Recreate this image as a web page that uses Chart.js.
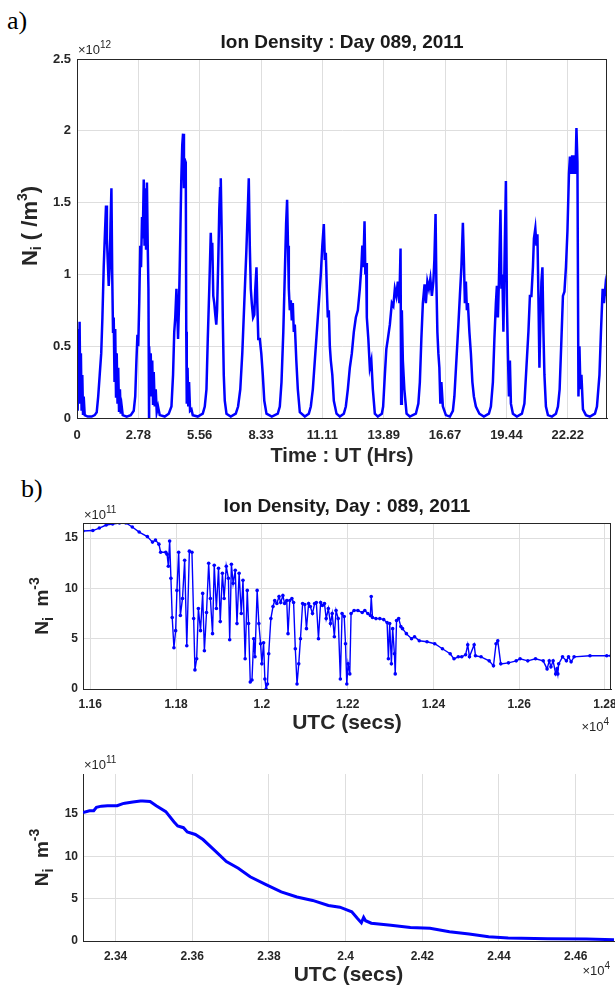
<!DOCTYPE html>
<html>
<head>
<meta charset="utf-8">
<script src="https://cdn.jsdelivr.net/npm/chart.js@4.4.1/dist/chart.umd.min.js"></script>
<style>
  body { margin: 0; background: #fff; }
  #page { position: relative; width: 615px; height: 985px; overflow: hidden; }
  canvas { position: absolute; left: 0; }
  .tag { position: absolute; font-family: 'Liberation Serif', 'Times New Roman', serif; font-size: 26px; color: #000; }
</style>
</head>
<body>
<div id="page">
  <div class="tag" style="left:7px; top:6px;">a)</div>
  <canvas id="panelA" width="615" height="470" style="top:0"></canvas>
  <div class="tag" style="left:21px; top:474px;">b)</div>
  <canvas id="panelB" width="615" height="265" style="top:470px"></canvas>
  <canvas id="panelC" width="615" height="250" style="top:735px"></canvas>
</div>
<script>
// ---- data ----

// a) full day, UT seconds, density in units of 1e12 /m^3
const timeA = [0,114,212,326,424,538,636,750,864,979,1093,1256,1745,2398,2887,3213,3458,3702,3947,4143,4355,4567,4730,4877,5007,5170,5333,5464,5611,5741,5872,5986,6116,6230,6361,6475,6606,6720,6850,6997,7128,7291,7454,
  8106,8759,9248,9492,9688,9851,9982,10145,10308,10438,10601,10716,10879,11009,11123,11254,11400,11531,11645,11743,11760,11906,12020,12151,12265,12396,12510,12673,12836,12999,13211,13488,
  14304,14956,15397,15658,15853,16016,16212,16343,16473,16636,16832,16995,17158,17289,17436,17566,17729,17811,17892,18023,18138,18268,18431,18659,18871,
  19686,20502,20829,21106,21318,21563,21807,21938,22052,22215,22378,22541,22704,22834,23030,23193,23323,23437,23600,23763,23926,24089,24367,
  25069,25884,26259,26618,26944,27270,27597,27841,28004,28168,28331,28494,28706,28902,29064,29260,29391,29554,29798,30043,30288,30532,30891,
  31756,32734,33061,33338,33632,33876,34088,34251,34398,34529,34692,34855,35018,35181,35344,35507,35752,35997,36323,
  37138,37791,38117,38443,38769,39095,39421,39747,39992,40236,40399,40562,40725,40888,41051,41214,41378,41622,41867,42307,
  42846,43498,43824,44150,44476,44802,45129,45455,45781,46107,46352,46515,46678,46873,47004,47134,47248,47493,47738,47982,48227,48553,
  49042,49695,49907,50184,50429,50673,50999,51325,51570,51815,52059,52304,52549,52744,52842,52956,53119,53364,53723,
  54261,55240,55648,55892,56137,56382,56659,56871,57116,57360,57605,57850,58094,58257,58453,58584,58747,58910,59073,59236,59399,59644,60133,
  60786,61275,61520,61846,62172,62416,62661,62906,63069,63232,63395,63558,63721,63966,64210,64455,64700,65026,65597,
  66331,67146,67472,67798,68043,68288,68451,68614,68777,69038,69185,69348,69511,69756,69919,70082,70245,70408,70571,70734,71060,
  71713,72528,72936,73262,73589,73833,74078,74323,74486,74715,74894,75057,75220,75383,75546,75710,75873,76036,76199,76444,76770,
  77423,78075,78401,78679,78972,79217,79461,79706,79951,80195,80359,80522,80718,80897,81109,81256,81419,81582,81745,81908,82071,82234,82479,82968,
  83621,84436,84762,85170,85415,85692,85904,86149,86344];
const densityA = [0.62,0.05,0.60,0.10,0.67,0.15,0.45,0.05,0.30,0.03,0.15,0.02,0.01,0.01,0.02,0.04,0.15,0.30,0.45,0.70,1.05,1.30,1.48,1.25,1.10,0.92,1.05,1.35,1.60,1.00,0.60,0.70,0.25,0.62,0.15,0.45,0.10,0.35,0.05,0.20,0.03,0.08,0.02,
  0.01,0.02,0.05,0.15,0.40,0.58,0.50,0.80,1.20,1.05,1.40,1.25,1.66,1.20,1.60,1.18,1.64,1.20,0.90,0.00,0.50,0.30,0.45,0.15,0.40,0.10,0.32,0.08,0.20,0.04,0.08,0.02,
  0.01,0.03,0.08,0.30,0.60,0.70,0.90,0.75,0.55,0.80,1.25,1.65,1.90,1.98,1.60,1.80,1.78,0.60,0.10,0.35,0.08,0.25,0.05,0.06,0.02,
  0.01,0.03,0.08,0.20,0.55,0.90,1.29,1.10,1.22,0.85,0.80,0.72,0.65,0.75,1.10,1.45,1.60,1.67,1.25,0.70,0.30,0.12,0.03,
  0.01,0.03,0.08,0.20,0.45,0.80,1.15,1.45,1.67,1.20,0.90,0.80,0.70,0.72,0.90,1.05,0.80,0.55,0.55,0.45,0.30,0.12,0.03,
  0.01,0.03,0.08,0.25,0.60,1.00,1.35,1.52,1.20,0.90,0.75,0.82,0.68,0.80,0.60,0.65,0.40,0.20,0.04,
  0.01,0.03,0.08,0.20,0.40,0.60,0.80,1.00,1.20,1.35,1.10,1.15,0.90,0.70,0.75,0.50,0.40,0.30,0.12,0.03,
  0.01,0.03,0.08,0.20,0.35,0.45,0.60,0.70,0.75,0.90,1.05,1.20,1.05,1.37,1.00,1.08,0.70,0.55,0.35,0.40,0.20,0.03,
  0.01,0.03,0.08,0.30,0.48,0.55,0.65,0.80,0.78,0.90,0.85,0.95,0.80,1.18,0.10,0.75,0.40,0.20,0.03,
  0.01,0.03,0.10,0.25,0.55,0.80,0.93,0.80,0.95,0.90,0.97,0.85,0.95,1.10,1.42,0.95,0.60,0.45,0.35,0.10,0.25,0.08,0.02,
  0.01,0.05,0.15,0.40,0.65,0.85,1.05,1.36,1.10,0.80,0.95,0.75,0.80,0.60,0.45,0.25,0.15,0.08,0.03,
  0.01,0.03,0.08,0.25,0.55,0.80,0.92,0.70,0.95,1.45,0.90,1.00,0.60,1.25,1.65,0.80,0.45,0.15,0.40,0.10,0.03,
  0.01,0.03,0.10,0.35,0.60,0.85,0.85,1.05,1.25,1.32,1.20,1.28,0.85,0.35,0.70,0.95,1.05,0.60,0.30,0.08,0.02,
  0.01,0.03,0.08,0.20,0.55,0.85,0.88,1.05,1.30,1.70,1.82,1.70,1.83,1.70,1.83,1.70,2.02,1.78,0.15,0.50,0.20,0.30,0.06,0.02,
  0.01,0.03,0.08,0.30,0.60,0.90,0.80,0.92,0.85];
const hourTicks = [0, 10000, 20000, 30000, 40000, 50000, 60000, 70000, 80000];
const hourLabels = ['0', '2.78', '5.56', '8.33', '11.11', '13.89', '16.67', '19.44', '22.22'];
const ticksA = [0, 0.5, 1, 1.5, 2, 2.5];
const tickLabelsA = ['0', '0.5', '1', '1.5', '2', '2.5'];

// b) first pass, UTC seconds, density in units of 1e11 m^-3
const timeB = [11583,11606,11621,11637,11652,11668,11683,11698,11714,11733,11745,11752,11760,11764,11776,11779,11782,11785,11788,11791,11795,11799,11802,11806,11810,11815,11820,11825,11831,11837,11841,11844,11848,
  11852,11857,11862,11866,11871,11876,11880,11885,11889,11894,11899,11903,11908,11912,11917,11922,11925,11929,11933,11938,11942,11947,11952,11956,11961,11966,11969,11973,11977,11981,11984,11989,11993,11997,
  12000,12004,12007,12010,12013,12016,12021,12026,12030,12035,12040,12044,12049,12053,12058,12061,12065,12070,12074,12078,12082,12086,12090,12095,12100,12104,12109,12113,12118,12123,12127,12132,12137,12141,
  12146,12150,12155,12160,12164,12169,12173,12178,12183,12187,12192,12195,12198,12201,12205,12208,12215,12224,12234,12240,12247,12253,12255,12258,12266,12275,12284,12292,12295,12298,12302,12305,12309,12311,
  12314,12319,12324,12328,12337,12349,12356,12367,12385,12403,12421,12439,12448,12458,12466,12475,12480,12484,12495,12498,12511,12530,12540,12546,12550,12557,12575,12593,12602,12620,12638,12656,12665,12670,
  12674,12679,12685,12688,12690,12692,12701,12710,12715,12721,12728,12765,12804,12814];
const densityB = [15.7,15.75,16.0,16.3,16.4,16.5,16.5,16.1,15.6,15.15,14.6,14.8,14.4,13.6,13.6,13.4,12.2,14.7,11.0,7.1,4.1,5.8,9.8,13.6,7.3,9.0,12.8,4.3,13.7,13.6,7.0,1.9,3.0,
  8.0,5.8,9.5,3.8,7.6,12.5,9.0,5.5,12.3,8.0,12.0,6.7,11.5,9.0,12.2,11.0,4.9,12.4,10.5,11.8,6.5,11.5,7.5,10.8,3.0,9.8,6.5,0.7,0.9,5.0,3.2,9.8,6.5,4.5,
  2.5,4.6,1.0,0.0,0.5,3.5,7.0,8.2,8.8,8.5,9.2,8.6,9.3,8.5,8.8,5.5,8.8,9.0,8.6,4.0,0.5,2.5,5.0,8.5,8.4,6.0,8.5,8.2,7.5,8.5,8.6,5.0,8.6,8.3,
  8.5,7.0,8.0,6.5,7.5,5.2,7.8,7.0,1.0,7.5,7.2,4.5,0.5,2.5,1.5,7.5,7.8,7.8,7.6,7.8,7.5,7.3,9.2,7.1,7.0,7.0,6.9,6.6,3.0,6.5,2.5,6.0,3.5,1.5,
  6.8,7.0,6.2,6.0,5.5,5.0,5.2,4.8,4.7,4.5,4.0,3.5,3.0,3.2,3.2,3.4,4.4,3.2,4.4,3.3,3.2,2.8,2.3,4.5,4.8,2.5,2.6,2.8,3.0,2.8,3.0,2.8,2.0,2.8,
  2.2,2.8,1.5,2.0,1.5,2.5,3.2,2.8,3.2,2.7,3.2,3.3,3.3,3.3];
const ticksB = [11600, 11800, 12000, 12200, 12400, 12600, 12800];
const tickLabelsB = ['1.16', '1.18', '1.2', '1.22', '1.24', '1.26', '1.28'];

// b) second pass
const timeC = [23315,23332,23343,23350,23363,23379,23404,23419,23424,23445,23465,23471,23490,23506,23531,23552,23562,23577,23587,23608,23628,23659,23689,23720,23751,23791,23832,23873,23914,23955,23985,
  24016,24031,24041,24047,24052,24067,24118,24169,24220,24271,24322,24373,24424,24527,24628,24700];
const densityC = [15.2,15.4,15.4,15.8,15.95,16.0,16.0,16.25,16.3,16.45,16.55,16.57,16.5,16.0,15.3,14.1,13.6,13.4,12.9,12.6,12.0,10.7,9.4,8.6,7.6,6.7,5.8,5.2,4.8,4.2,4.0,
  3.45,2.65,2.15,2.8,2.4,2.1,1.85,1.6,1.5,1.1,0.83,0.5,0.35,0.27,0.24,0.15];
const ticksC = [23400, 23600, 23800, 24000, 24200, 24400, 24600];
const tickLabelsC = ['2.34', '2.36', '2.38', '2.4', '2.42', '2.44', '2.46'];
const ticksN = [0, 5, 10, 15];
const tickLabelsN = ['0', '5', '10', '15'];

// ---- drawing ----
const FONT = "'Liberation Sans', Arial, Helvetica, sans-serif";
const INK = '#262626';
const GRID = '#dedede';
const BLUE = '#0000ff';

function drawRich(ctx, item, a) {
  const x = typeof item.x === 'function' ? item.x(a) : item.x;
  const y = typeof item.y === 'function' ? item.y(a) : item.y;
  let w = 0;
  item.parts.forEach(p => {
    ctx.font = (p.bold ? 'bold ' : '') + p.size + 'px ' + FONT;
    p.w = ctx.measureText(p.t).width;
    w += p.w;
  });
  ctx.save();
  ctx.translate(x, y);
  if (item.rotate) ctx.rotate(item.rotate);
  let cx = item.align === 'center' ? -w / 2 : item.align === 'right' ? -w : 0;
  ctx.textBaseline = 'middle';
  ctx.fillStyle = item.color || INK;
  item.parts.forEach(p => {
    ctx.font = (p.bold ? 'bold ' : '') + p.size + 'px ' + FONT;
    ctx.fillText(p.t, cx, p.dy || 0);
    cx += p.w;
  });
  ctx.restore();
}

const panelText = {
  id: 'panelText',
  afterDraw(chart, args, opts) {
    const ctx = chart.ctx, a = chart.chartArea;
    ctx.save();
    if (opts.box) {
      ctx.strokeStyle = INK;
      ctx.lineWidth = 1;
      ctx.strokeRect(a.left + 0.5, a.top + 0.5, a.right - a.left - 1, a.bottom - a.top);
    }
    (opts.items || []).forEach(it => drawRich(ctx, it, a));
    ctx.restore();
  }
};

function axis(vals, labels, min, max, font, pad, fit) {
  return {
    type: 'linear', min: min, max: max,
    afterBuildTicks: s => { s.ticks = vals.map(v => ({ value: v })); },
    afterFit: s => { fit(s); s.paddingLeft = 0; s.paddingRight = 0; s.paddingTop = 0; s.paddingBottom = 0; },
    ticks: { callback: (v, i) => labels[i], font: font, color: INK, padding: pad, autoSkip: false, maxRotation: 0 },
    grid: { color: GRID, lineWidth: 1, drawTicks: false },
    border: { color: INK, width: 1 }
  };
}

function buildPanel(id, p) {
  const canvas = document.getElementById(id);
  const W = canvas.width, H = canvas.height, area = p.area;
  const tickFont = { family: FONT, size: p.tickSize, weight: 'bold' };
  return new Chart(canvas, {
    type: 'line',
    data: {
      datasets: [{
        data: p.x.map((t, i) => ({ x: t, y: p.y[i] })),
        borderColor: BLUE,
        backgroundColor: BLUE,
        borderWidth: p.lineWidth,
        pointRadius: p.pointRadius,
        pointBorderWidth: 0,
        tension: 0
      }]
    },
    options: {
      responsive: false,
      animation: false,
      events: [],
      layout: { padding: { left: 0, top: area.top, right: W - area.right, bottom: 0 } },
      plugins: {
        legend: { display: false },
        tooltip: { enabled: false },
        panelText: { box: p.box, items: p.items }
      },
      scales: {
        x: axis(p.xTicks, p.xLabels, p.xMin, p.xMax, tickFont, p.xPad, s => { s.height = H - area.bottom; }),
        y: axis(p.yTicks, p.yLabels, p.yMin, p.yMax, tickFont, p.yPad, s => { s.width = area.left; })
      }
    },
    plugins: [panelText]
  });
}

const midX = a => (a.left + a.right) / 2;
const midY = a => (a.top + a.bottom) / 2;
const UP = -Math.PI / 2;

function yTitle(x, y, size, rest, sup) {
  const parts = [
    { t: 'N', size: size, bold: true },
    { t: 'i', size: 14, bold: true, dy: 6 },
    { t: rest, size: size, bold: true },
    { t: sup, size: 14, bold: true, dy: -8 }
  ];
  if (sup === '3') parts.push({ t: ')', size: size, bold: true });
  return { parts: parts, x: x, y: y, rotate: UP, align: 'center' };
}
function power(x, y, exp, align) {
  return { parts: [{ t: '\u00d710', size: 13 }, { t: exp, size: 10, dy: -5 }], x: x, y: y, align: align || 'left' };
}

buildPanel('panelA', {
  area: { left: 77, top: 59, right: 607, bottom: 418 },
  x: timeA, y: densityA, lineWidth: 2.5, pointRadius: 0, box: true,
  xTicks: hourTicks, xLabels: hourLabels, xMin: 0, xMax: 86400,
  yTicks: ticksA, yLabels: tickLabelsA, yMin: 0, yMax: 2.5,
  tickSize: 13, xPad: 10, yPad: 6,
  items: [
    { parts: [{ t: 'Ion Density : Day 089, 2011', size: 19, bold: true }], x: midX, y: a => a.top - 16, align: 'center', color: '#1a1a1a' },
    power(a => a.left + 1, a => a.top - 9, '12'),
    { parts: [{ t: 'Time : UT (Hrs)', size: 20, bold: true }], x: midX, y: a => a.bottom + 38, align: 'center' },
    yTitle(31, 226, 22, ' ( /m', '3')
  ]
});

buildPanel('panelB', {
  area: { left: 83, top: 53, right: 612, bottom: 219 },
  x: timeB, y: densityB, lineWidth: 1.4, pointRadius: 1.8, box: true,
  xTicks: ticksB, xLabels: tickLabelsB, xMin: 11583, xMax: 12814,
  yTicks: ticksN, yLabels: tickLabelsN, yMin: 0, yMax: 16.5,
  tickSize: 12, xPad: 8, yPad: 5,
  items: [
    { parts: [{ t: 'Ion Density, Day : 089, 2011', size: 19, bold: true }], x: midX, y: a => a.top - 16, align: 'center', color: '#1a1a1a' },
    power(a => a.left + 1, a => a.top - 8, '11'),
    { parts: [{ t: 'UTC (secs)', size: 21, bold: true }], x: midX, y: a => a.bottom + 34, align: 'center' },
    power(a => a.right - 2, a => a.bottom + 38, '4', 'right'),
    yTitle(43, midY, 19, '  m', '-3')
  ]
});

buildPanel('panelC', {
  area: { left: 83, top: 39, right: 614, bottom: 206 },
  x: timeC, y: densityC, lineWidth: 3, pointRadius: 0, box: false,
  xTicks: ticksC, xLabels: tickLabelsC, xMin: 23315, xMax: 24700,
  yTicks: ticksN, yLabels: tickLabelsN, yMin: 0, yMax: 19.75,
  tickSize: 12, xPad: 8, yPad: 5,
  items: [
    power(a => a.left + 1, a => a.top - 9, '11'),
    { parts: [{ t: 'UTC (secs)', size: 21, bold: true }], x: midX, y: a => a.bottom + 34, align: 'center' },
    power(a => a.right - 4, a => a.bottom + 30, '4', 'right'),
    yTitle(43, midY, 19, '  m', '-3')
  ]
});
</script>
</body>
</html>
